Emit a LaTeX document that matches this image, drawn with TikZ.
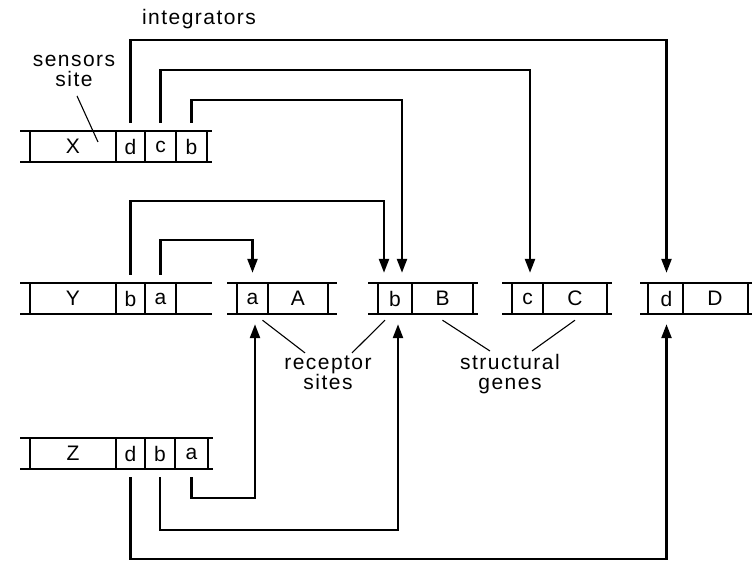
\documentclass[tikz,border=0pt]{standalone}
\usepackage{fontspec}
\setmainfont{Liberation Sans}[LetterSpace=7]
\usepackage{tikz}
\usetikzlibrary{arrows.meta, calc, positioning}

\newcommand{\lbl}{\fontsize{21}{23}\selectfont}

\tikzset{
    bar/.style={line width=1.4pt},
    link/.style={line width=2.4pt, shorten <=8pt},
    arr/.style={link, -{Triangle[length=14pt,width=10pt]}, shorten >=10pt},
    cell/.style={inner sep=0pt, minimum height=31pt, font=\lbl},
    note/.style={inner sep=1pt, align=center, font=\lbl},
    pointer/.style={line width=1.1pt},
}

\begin{document}
\begin{tikzpicture}[x=1pt, y=-1pt]
    \useasboundingbox (0,0) rectangle (753,561);

    % gene bars: top / left end / right end / dividers
    \foreach \t/\l/\r/\vs in {131/20/212/{30,116,145,176,207},
                              283/20/212/{30,116,145,176},
                              283/227/337/{237,268,328},
                              283/368/478/{378,412,473},
                              283/502/612/{512,543,607},
                              283/640/752/{648,683,748},
                              438/20/213/{30,116,145,175,208}}{
        \draw[bar] (\l,\t) -- (\r,\t) (\l,\t+31) -- (\r,\t+31);
        \foreach \v in \vs{
            \draw[bar] (\v,\t) -- (\v,\t+31);
        }
    }

    % regulator genes
    \node[cell] (xx) at (73,146.5) {X};
    \node[cell] (xd) at (130.5,146.5) {d};
    \node[cell] (xc) at (160.5,146.5) {c};
    \node[cell] (xb) at (191.5,146.5) {b};

    \node[cell] (yy) at (73,298.5) {Y};
    \node[cell] (yb) at (130.5,298.5) {b};
    \node[cell] (ya) at (160.5,298.5) {a};

    \node[cell] (zz) at (73,453.5) {Z};
    \node[cell] (zd) at (130.5,453.5) {d};
    \node[cell] (zb) at (160,453.5) {b};
    \node[cell] (za) at (191.5,453.5) {a};

    % structural genes
    \node[cell] (ga) at (252.5,298.5) {a};
    \node[cell] (gA) at (298,298.5) {A};
    \node[cell] (gb) at (395,298.5) {b};
    \node[cell] (gB) at (442.5,298.5) {B};
    \node[cell] (gc) at (527.5,298.5) {c};
    \node[cell] (gC) at (575,298.5) {C};
    \node[cell] (gd) at (666.5,298.5) {d};
    \node[cell] (gD) at (715,298.5) {D};

    % integrators
    \draw[arr] (xd.north) -- ++(0,-91) -| (gd.north);
    \draw[arr] (xc.north) -- ++(0,-61) -| ([xshift=2.5pt]gc.north);
    \draw[arr] (xb.north) -- ++(0,-31) -| ([xshift=7pt]gb.north);
    \draw[arr] (yb.north) -- ++(0,-82) -| ([xshift=-11pt]gb.north);
    \draw[arr] (ya.north) -- ++(0,-43) -| (ga.north);
    \draw[arr] (za.south) -- ++(0,29) -| ([xshift=2.5pt]ga.south);
    \draw[arr] (zb.south) -- ++(0,61) -| ([xshift=3pt]gb.south);
    \draw[arr] (zd.south) -- ++(0,90) -| (gd.south);

    % labels
    \node[note] (integ) at (199,19) {integrators};
    \node[note] (sens) at (74,71) {sensors\\[-3pt]site};
    \node[note] (rec) at (328,373) {receptor\\[-3pt]sites};
    \node[note] (struc) at (510,374) {structural\\[-3pt]genes};

    \coordinate (sensend) at (98,142);
    \draw[pointer] ([xshift=3pt,yshift=-8pt]sens.south) -- (sensend);
    \draw[pointer] ([xshift=-23pt,yshift=2pt]rec.north) -- ([xshift=10pt,yshift=-6pt]ga.south);
    \draw[pointer] ([xshift=24pt,yshift=2pt]rec.north) -- ([xshift=-10pt,yshift=-6pt]gb.south);
    \draw[pointer] ([xshift=-20pt,yshift=2pt]struc.north) -- ([yshift=-6pt]gB.south);
    \draw[pointer] ([xshift=22pt,yshift=2pt]struc.north) -- ([yshift=-6pt]gC.south);
\end{tikzpicture}
\end{document}
